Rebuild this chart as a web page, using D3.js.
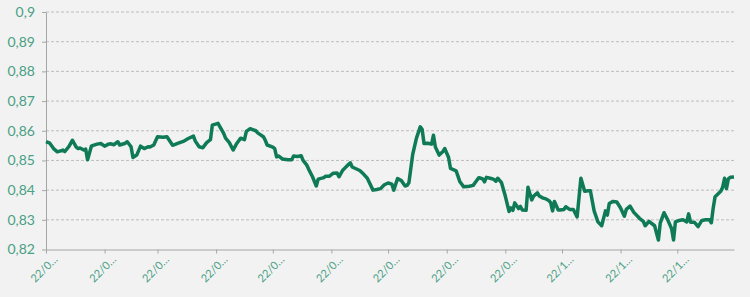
<!DOCTYPE html>
<html>
<head>
<meta charset="utf-8">
<script src="https://cdn.jsdelivr.net/npm/d3@7"></script>
<style>
  html, body { margin: 0; padding: 0; background: #f2f2f2; }
  svg { display: block; }
  .axis text { font-family: Lato, "Open Sans", sans-serif; fill: #49a084; }
  .axis path, .axis line { stroke: #a6a6a6; }
</style>
</head>
<body>
<div id="chart"></div>
<script>
// values
var dates = [
  "2022-01-01","2022-01-03","2022-01-05","2022-01-07","2022-01-10","2022-01-11","2022-01-13","2022-01-15",
  "2022-01-17","2022-01-18","2022-01-19","2022-01-21","2022-01-22","2022-01-23","2022-01-25","2022-01-26",
  "2022-01-28","2022-01-30","2022-02-01","2022-02-03","2022-02-04","2022-02-06","2022-02-08","2022-02-09",
  "2022-02-12","2022-02-13","2022-02-15","2022-02-16","2022-02-18","2022-02-20","2022-02-22","2022-02-24",
  "2022-02-25","2022-02-27","2022-03-01","2022-03-04","2022-03-06","2022-03-09","2022-03-12","2022-03-15",
  "2022-03-17","2022-03-20","2022-03-21","2022-03-23","2022-03-25","2022-03-27","2022-03-29","2022-03-30",
  "2022-04-02","2022-04-05","2022-04-06","2022-04-08","2022-04-10","2022-04-12","2022-04-14","2022-04-16",
  "2022-04-17","2022-04-19","2022-04-22","2022-04-23","2022-04-26","2022-04-27","2022-04-28","2022-05-01",
  "2022-05-02","2022-05-03","2022-05-04","2022-05-06","2022-05-09","2022-05-11","2022-05-12","2022-05-14",
  "2022-05-16","2022-05-17","2022-05-19","2022-05-20","2022-05-22","2022-05-24","2022-05-25","2022-05-28",
  "2022-05-29","2022-05-31","2022-06-02","2022-06-04","2022-06-05","2022-06-07","2022-06-09","2022-06-11",
  "2022-06-12","2022-06-14","2022-06-16","2022-06-18","2022-06-20","2022-06-23","2022-06-25","2022-06-27",
  "2022-06-29","2022-07-01","2022-07-03","2022-07-04","2022-07-06","2022-07-08","2022-07-10","2022-07-11",
  "2022-07-12","2022-07-14","2022-07-16","2022-07-18","2022-07-19","2022-07-20","2022-07-22","2022-07-24",
  "2022-07-25","2022-07-26","2022-07-28","2022-07-30","2022-07-31","2022-08-02","2022-08-03","2022-08-06",
  "2022-08-08","2022-08-10","2022-08-13","2022-08-15","2022-08-16","2022-08-18","2022-08-19","2022-08-20",
  "2022-08-21","2022-08-22","2022-08-24","2022-08-26","2022-08-27","2022-08-28","2022-08-30","2022-09-01",
  "2022-09-03","2022-09-04","2022-09-05","2022-09-06","2022-09-08","2022-09-09","2022-09-10","2022-09-12",
  "2022-09-13","2022-09-15","2022-09-16","2022-09-18","2022-09-19","2022-09-21","2022-09-22","2022-09-24",
  "2022-09-25","2022-09-26","2022-09-27","2022-09-29","2022-09-30","2022-10-02","2022-10-03","2022-10-05",
  "2022-10-07","2022-10-09","2022-10-11","2022-10-13","2022-10-15","2022-10-16","2022-10-18","2022-10-20",
  "2022-10-22","2022-10-24","2022-10-25","2022-10-26","2022-10-28","2022-10-30","2022-11-01","2022-11-03",
  "2022-11-04","2022-11-06","2022-11-08","2022-11-11","2022-11-13","2022-11-14","2022-11-16","2022-11-19",
  "2022-11-20","2022-11-21","2022-11-22","2022-11-24","2022-11-26","2022-11-28","2022-11-29","2022-11-30",
  "2022-12-02","2022-12-04","2022-12-06","2022-12-07","2022-12-08","2022-12-10","2022-12-12","2022-12-14",
  "2022-12-16","2022-12-18","2022-12-19","2022-12-20","2022-12-21","2022-12-24","2022-12-25","2022-12-26",
  "2022-12-27","2022-12-28","2022-12-29","2022-12-31"
];

var values = [
  0.8563,0.8558,0.8540,0.8529,0.8535,0.8530,0.8546,0.8568,
  0.8545,0.8540,0.8542,0.8535,0.8538,0.8502,0.8548,0.8551,
  0.8555,0.8557,0.8548,0.8555,0.8556,0.8553,0.8563,0.8552,
  0.8558,0.8563,0.8546,0.8510,0.8518,0.8548,0.8540,0.8546,
  0.8545,0.8552,0.8580,0.8578,0.8580,0.8551,0.8558,0.8565,
  0.8573,0.8582,0.8565,0.8546,0.8543,0.8560,0.8570,0.8619,
  0.8625,0.8591,0.8575,0.8560,0.8535,0.8558,0.8575,0.8570,
  0.8598,0.8607,0.8600,0.8593,0.8580,0.8568,0.8552,0.8545,
  0.8540,0.8512,0.8515,0.8505,0.8502,0.8502,0.8515,0.8513,
  0.8516,0.8500,0.8484,0.8470,0.8445,0.8414,0.8437,0.8442,
  0.8447,0.8447,0.8457,0.8458,0.8445,0.8467,0.8480,0.8492,
  0.8478,0.8472,0.8466,0.8454,0.8440,0.8400,0.8402,0.8405,
  0.8418,0.8424,0.8420,0.8400,0.8439,0.8432,0.8414,0.8416,
  0.8425,0.8520,0.8575,0.8613,0.8605,0.8557,0.8558,0.8555,
  0.8585,0.8545,0.8518,0.8530,0.8540,0.8510,0.8473,0.8465,
  0.8428,0.8411,0.8413,0.8416,0.8425,0.8442,0.8440,0.8438,
  0.8428,0.8443,0.8440,0.8436,0.8430,0.8440,0.8425,0.8380,
  0.8328,0.8340,0.8332,0.8357,0.8338,0.8345,0.8333,0.8332,
  0.8410,0.8367,0.8380,0.8391,0.8380,0.8373,0.8372,0.8365,
  0.8358,0.8330,0.8362,0.8333,0.8333,0.8335,0.8344,0.8335,
  0.8335,0.8310,0.8440,0.8396,0.8398,0.8398,0.8330,0.8293,
  0.8280,0.8330,0.8316,0.8355,0.8362,0.8360,0.8340,0.8312,
  0.8335,0.8346,0.8325,0.8305,0.8295,0.8280,0.8295,0.8280,
  0.8255,0.8232,0.8290,0.8324,0.8299,0.8270,0.8232,0.8293,
  0.8298,0.8300,0.8293,0.8320,0.8292,0.8292,0.8277,0.8298,
  0.8300,0.8300,0.8290,0.8340,0.8378,0.8396,0.8410,0.8440,
  0.8405,0.8438,0.8443,0.8444
];

var yTicks = [0.82, 0.83, 0.84, 0.85, 0.86, 0.87, 0.88, 0.89, 0.9];
var xStart = "2022-01-01", xEnd = "2022-12-31";

// svg area
var svgWidth = 750;
var svgHeight = 297;
var margin = { top: 12, right: 16, bottom: 47.5, left: 46 };
var chartWidth = svgWidth - margin.left - margin.right;
var chartHeight = svgHeight - margin.top - margin.bottom;

var parseDate = d3.timeParse("%Y-%m-%d");
var series = dates.map(function(d, i) {
    return { date: parseDate(d), value: values[i] };
});

var svg = d3.select("#chart")
    .append("svg")
    .attr("width", svgWidth)
    .attr("height", svgHeight);

var chartGroup = svg.append("g")
    .attr("transform", `translate(${margin.left}, ${margin.top})`);

var xScale = d3.scaleTime()
    .domain([parseDate(xStart), parseDate(xEnd)])
    .range([0, chartWidth]);

var yScale = d3.scaleLinear()
    .domain([d3.min(yTicks), d3.max(yTicks)])
    .range([chartHeight, 0]);

// comma as decimal separator
var locale = d3.formatLocale({ decimal: ",", thousands: ".", grouping: [3], currency: ["", "€"] });
var yFormat = locale.format(".2~f");
var monthFormat = d3.timeFormat("%y/%m");

// dashed gridlines
chartGroup.append("g")
    .selectAll("line")
    .data(yTicks.slice(1))
    .enter()
    .append("line")
    .attr("x1", 0)
    .attr("x2", chartWidth + 2)
    .attr("y1", d => yScale(d))
    .attr("y2", d => yScale(d))
    .attr("stroke", "#bdbdbd")
    .attr("stroke-width", 1)
    .attr("stroke-dasharray", "3,2");

var yAxis = d3.axisLeft(yScale)
    .tickValues(yTicks)
    .tickSize(4)
    .tickSizeOuter(0)
    .tickPadding(7)
    .tickFormat(yFormat);

chartGroup.append("g")
    .attr("class", "axis")
    .call(yAxis)
    .selectAll("text")
    .style("font-size", "14px");

var xAxis = d3.axisBottom(xScale)
    .ticks(d3.timeMonth.every(1))
    .tickSize(4)
    .tickSizeOuter(0)
    .tickFormat(d => monthFormat(d).slice(0, 4) + "…");

chartGroup.append("g")
    .attr("class", "axis")
    .attr("transform", `translate(0, ${chartHeight})`)
    .call(xAxis)
    .selectAll("text")
    .attr("x", 0)
    .attr("y", 0)
    .attr("dy", "0.35em")
    .attr("text-anchor", "end")
    .attr("transform", "translate(9, 8) rotate(-45)")
    .style("font-size", "11px");

var line = d3.line()
    .x(d => xScale(d.date))
    .y(d => yScale(d.value));

chartGroup.append("path")
    .datum(series)
    .attr("fill", "none")
    .attr("stroke", "#0f7a56")
    .attr("stroke-width", 3.5)
    .attr("stroke-linejoin", "round")
    .attr("d", line);
</script>
</body>
</html>
